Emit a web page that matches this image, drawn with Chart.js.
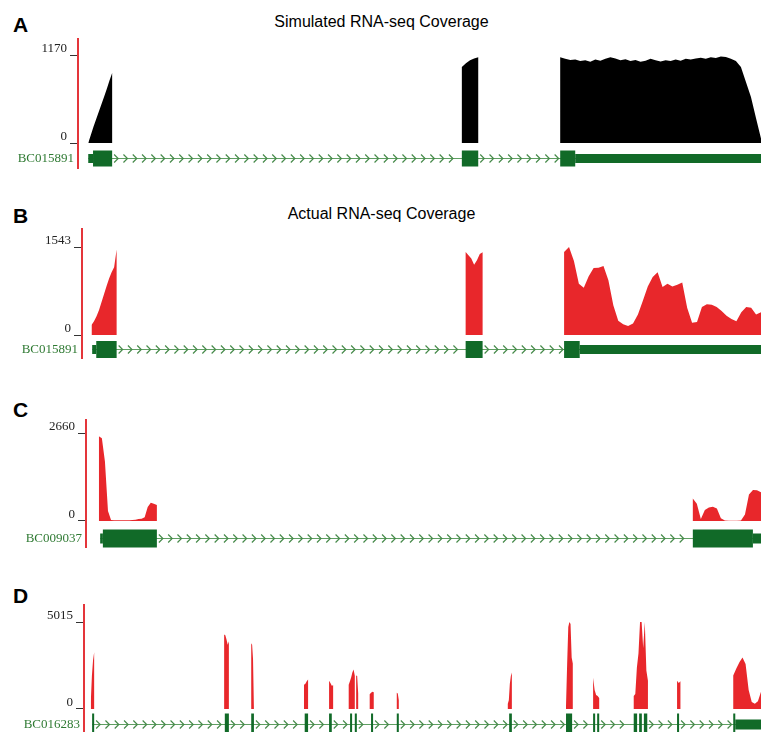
<!DOCTYPE html>
<html>
<head>
<meta charset="utf-8">
<script src="https://cdn.jsdelivr.net/npm/chart.js@4.4.1/dist/chart.umd.min.js"></script>
<style>
  html, body { margin: 0; padding: 0; background: #fff; overflow: hidden; }
  body { width: 761px; height: 732px; position: relative; font-family: "Liberation Sans", Arial, sans-serif; color: #000; }
  canvas { position: absolute; left: 0; }
  .letter { position: absolute; left: 13px; font-size: 21px; font-weight: bold; line-height: 1; }
  .title { position: absolute; left: 0; width: 763px; text-align: center; font-size: 16px; line-height: 1; }
</style>
</head>
<body>
<div class="letter" style="top:14px">A</div>
<div class="title" style="top:14px">Simulated RNA-seq Coverage</div>
<div class="letter" style="top:205px">B</div>
<div class="title" style="top:206px">Actual RNA-seq Coverage</div>
<div class="letter" style="top:399px">C</div>
<div class="letter" style="top:585px">D</div>
<canvas id="panelA" width="761" height="135" style="top:36px"></canvas>
<canvas id="panelB" width="761" height="135" style="top:226px"></canvas>
<canvas id="panelC" width="761" height="133" style="top:417px"></canvas>
<canvas id="panelD" width="761" height="141" style="top:602px"></canvas>
<script>
// ---- data (genomic position scaled 0-1000 across each track) ----
const geneNames = ["BC015891", "BC015891", "BC009037", "BC016283"];
const maxTicks = [1170, 1543, 2660, 5015];

// Panel A: simulated coverage
const aCovStarts = [15, 562, 706];
const aCovEnds = [50, 586, 1000];
const aCovValues = [
    [0, 110, 220, 320, 420, 520, 620, 720, 830, 930],
    [1010, 1060, 1100, 1125, 1140],
    [1140, 1120, 1105, 1110, 1090, 1100, 1080, 1110, 1095, 1120, 1140, 1125, 1100, 1115, 1090, 1105, 1080, 1095, 1120, 1100,
     1085, 1100, 1090, 1110, 1095, 1120, 1110, 1125, 1135, 1120, 1140, 1130, 1150, 1145, 1120, 1090, 1010, 811, 612, 332, 60]
];
const aExonStarts = [15, 22, 562, 706, 728];
const aExonEnds = [22, 50, 586, 728, 1000];
const aExonKinds = ["utr", "cds", "cds", "cds", "utr"];

// Panel B: actual coverage
const bCovStarts = [14, 565, 710];
const bCovEnds = [51, 590, 1000];
const bCovValues = [
    [175, 240, 330, 440, 580, 720, 860, 990, 1100, 1190, 1500],
    [1455, 1400, 1340, 1230, 1310, 1420, 1450],
    [1455, 1543, 1300, 900, 830, 1030, 1175, 1180, 1210, 960, 520, 250, 190, 160, 200, 360, 600, 850, 1017, 1100,
     842, 900, 850, 880, 920, 480, 215, 230, 490, 540, 530, 490, 420, 340, 280, 240, 400, 490, 480, 360, 400]
];
const bExonStarts = [15, 21, 565, 710, 733];
const bExonEnds = [21, 51, 590, 733, 1000];
const bExonKinds = ["utr", "cds", "cds", "cds", "utr"];

// Panel C
const cCovStarts = [19, 899];
const cCovEnds = [105, 1000];
const cCovValues = [
    [2560, 2500, 1800, 300, 30, 20, 20, 20, 20, 20, 25, 30, 40, 60, 70, 110, 420, 550, 520, 480],
    [680, 520, 60, 330, 410, 430, 380, 80, 15, 10, 10, 10, 15, 200, 800, 940, 930, 870]
];
const cExonStarts = [21, 25, 899, 988];
const cExonEnds = [25, 105, 988, 1000];
const cExonKinds = ["utr", "cds", "cds", "utr"];

// Panel D
const dCovStarts = [10, 207, 247, 325, 362, 391, 402, 422, 462, 626, 712, 752, 812, 876, 959];
const dCovEnds = [15, 214, 251, 331, 368, 400, 405, 428, 465, 632, 722, 761, 833, 881, 1000];
const dCovValues = [
    [400, 1900, 2800, 3265],
    [4300, 4250, 4000, 3700, 3900],
    [3790, 3700, 2900, 1500],
    [1400, 1450, 1600, 1700],
    [1630, 1500, 1340, 1370],
    [1400, 1600, 1810, 2100, 2275, 1920],
    [1925, 1900, 900],
    [850, 935, 990, 960],
    [935, 900, 500],
    [300, 500, 1460, 1900, 2100],
    [200, 2620, 4720, 5015, 4900, 2970, 2620],
    [1800, 1100, 800, 750, 640],
    [750, 870, 2390, 3200, 5015, 5015, 3500, 5015, 2215, 1630],
    [1630, 1500, 1600],
    [1925, 2330, 2700, 2970, 2600, 1100, 400, 300, 450, 1000]
];
const dExonStarts = [12, 208, 247, 326, 362, 393, 400, 424, 462, 628, 712, 752, 758, 812, 820, 827, 876, 959, 962];
const dExonEnds = [15, 214, 251, 331, 366, 396, 403, 427, 465, 632, 721, 755, 761, 817, 824, 832, 879, 962, 1000];
const dExonKinds = ["cds", "cds", "cds", "cds", "cds", "cds", "cds", "cds", "cds", "cds", "cds", "cds", "cds", "cds", "cds", "cds", "cds", "cds", "utr"];

// ---- layout / style ----
const RED = "#e8272b";
const panelLayout = [
    { id: "panelA", axisX: 78, yMin: -332, yMax: 1383, geneOffset: 15, cdsH: 16, utrH: 9, color: "#000000" },
    { id: "panelB", axisX: 82, yMin: -403, yMax: 1859, geneOffset: 14, cdsH: 17, utrH: 9, color: RED },
    { id: "panelC", axisX: 86, yMin: -786, yMax: 3053, geneOffset: 17, cdsH: 18, utrH: 10, color: RED },
    { id: "panelD", axisX: 84, yMin: -1787, yMax: 5995, geneOffset: 15, cdsH: 22, utrH: 10, color: RED }
];

//Turn the coverage segments into points for a filled line
function coveragePoints(starts, ends, values) {
    const pts = [];
    for (let s = 0; s < starts.length; s++) {
        const vals = values[s];
        const step = (ends[s] - starts[s]) / (vals.length - 1);
        pts.push({ x: starts[s], y: 0 });
        for (let i = 0; i < vals.length; i++) {
            pts.push({ x: starts[s] + i * step, y: vals[i] });
        }
        pts.push({ x: ends[s], y: 0 });
    }
    return pts;
}

//Draws the gene model under the coverage track
const geneTrack = {
    id: "geneTrack",
    afterDatasetsDraw(chart, args, opts) {
        const ctx = chart.ctx;
        const xs = chart.scales.x;
        const ys = chart.scales.y;
        const px = v => xs.getPixelForValue(v);
        const cy = Math.round(ys.getPixelForValue(0)) + opts.offset;
        ctx.save();
        // intron line
        ctx.strokeStyle = "#5f9f62";
        ctx.lineWidth = 1;
        ctx.beginPath();
        ctx.moveTo(px(opts.starts[0]), cy + 0.5);
        ctx.lineTo(px(opts.ends[opts.ends.length - 1]), cy + 0.5);
        ctx.stroke();
        // chevrons for strand
        ctx.strokeStyle = "#468a4a";
        ctx.lineWidth = 1.2;
        ctx.beginPath();
        for (let i = 0; i < opts.starts.length - 1; i++) {
            const a = px(opts.ends[i]);
            const b = px(opts.starts[i + 1]);
            for (let x = a + 4; x < b - 3; x += 9.3) {
                ctx.moveTo(x - 2, cy - 3.5);
                ctx.lineTo(x + 2, cy + 0.5);
                ctx.lineTo(x - 2, cy + 4.5);
            }
        }
        ctx.stroke();
        // exons
        ctx.fillStyle = "#116a28";
        for (let i = 0; i < opts.starts.length; i++) {
            const h = opts.kinds[i] === "utr" ? opts.utrH : opts.cdsH;
            const x0 = px(opts.starts[i]);
            const w = Math.max(2, px(opts.ends[i]) - x0);
            ctx.fillRect(x0, cy + 0.5 - h / 2, w, h);
        }
        // gene name
        ctx.fillStyle = "#2f7a33";
        ctx.font = '13px "Liberation Serif", "Times New Roman", serif';
        ctx.textAlign = "right";
        ctx.textBaseline = "middle";
        ctx.fillText(opts.name, chart.chartArea.left - 4, cy + 1);
        ctx.restore();
    }
};

const panelData = [
    [aCovStarts, aCovEnds, aCovValues, aExonStarts, aExonEnds, aExonKinds],
    [bCovStarts, bCovEnds, bCovValues, bExonStarts, bExonEnds, bExonKinds],
    [cCovStarts, cCovEnds, cCovValues, cExonStarts, cExonEnds, cExonKinds],
    [dCovStarts, dCovEnds, dCovValues, dExonStarts, dExonEnds, dExonKinds]
];

for (let p = 0; p < 4; p++) {
    const lay = panelLayout[p];
    const [covS, covE, covV, exS, exE, exK] = panelData[p];
    const maxTick = maxTicks[p];
    const ctx = document.getElementById(lay.id).getContext("2d");
    new Chart(ctx, {
        type: "line",
        data: {
            datasets: [{
                data: coveragePoints(covS, covE, covV),
                fill: "origin",
                backgroundColor: lay.color,
                borderWidth: 0,
                pointRadius: 0,
                tension: 0
            }]
        },
        options: {
            responsive: false,
            animation: false,
            layout: { padding: { top: 3, bottom: 3, left: 0, right: 0 } },
            plugins: {
                legend: { display: false },
                tooltip: { enabled: false },
                geneTrack: {
                    starts: exS, ends: exE, kinds: exK, name: geneNames[p],
                    offset: lay.geneOffset, cdsH: lay.cdsH, utrH: lay.utrH
                }
            },
            scales: {
                x: { type: "linear", min: 0, max: 1000, display: false },
                y: {
                    min: lay.yMin,
                    max: lay.yMax,
                    afterBuildTicks: s => { s.ticks = [{ value: 0 }, { value: maxTick }]; },
                    afterFit: s => { s.width = lay.axisX; s.paddingTop = 0; s.paddingBottom = 0; },
                    border: { color: "#e4353a", width: 2 },
                    grid: { drawOnChartArea: false, tickLength: 8, tickColor: "#333", lineWidth: 1 },
                    ticks: {
                        color: "#222",
                        padding: 3,
                        labelOffset: -6,
                        font: { family: '"Liberation Serif", "Times New Roman", serif', size: 13 },
                        callback: v => String(v)
                    }
                }
            }
        },
        plugins: [geneTrack]
    });
}
</script>
</body>
</html>
